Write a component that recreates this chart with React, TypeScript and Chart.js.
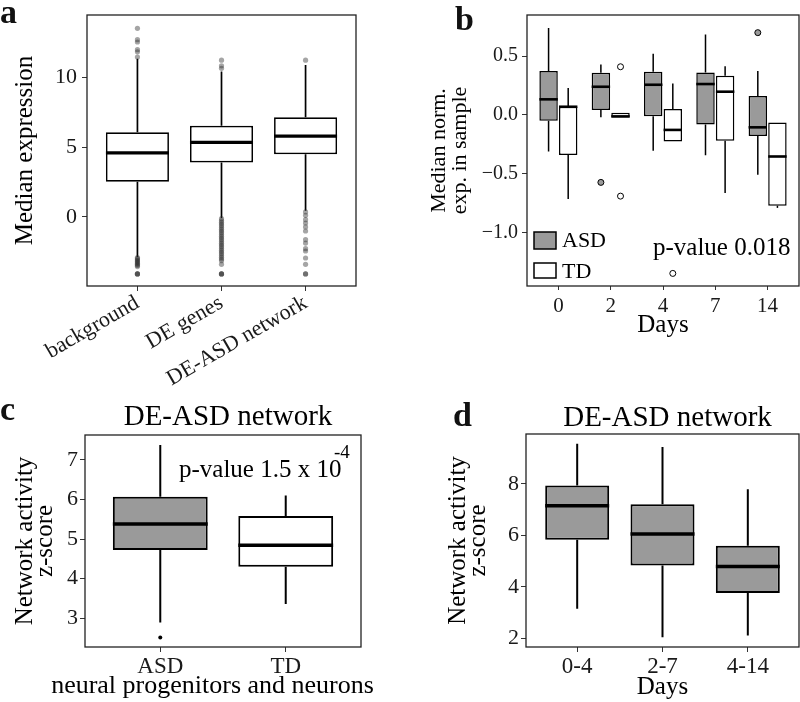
import React, { useEffect, useRef } from "react";
import { Chart, registerables } from "chart.js";

Chart.register(...registerables);

const SERIF = '"Liberation Serif", "Times New Roman", Times, serif';
const ASD_GREY = "#9a9a9a";
const WHITE = "#ffffff";
const TICK_TEXT = "#1a1a1a";

// ---------------- Panel a ----------------
const aCategories = ["background", "DE genes", "DE-ASD network"];
const aLow = [-2.85, -0.08, 0.45];
const aQ1 = [2.52, 3.9, 4.48];
const aMedian = [4.58, 5.33, 5.78];
const aQ3 = [6.05, 6.52, 7.12];
const aHigh = [11.3, 10.4, 10.85];
const aOutBackground = [11.43, 11.8, 11.95, 12.5, 12.67, 13.48, -2.9, -2.98, -3.06, -3.14, -3.22, -3.3, -3.38, -3.46, -3.54, -4.07, -4.07, -4.07];
const aOutDE = [10.62, 10.8, 11.2, -0.12, -0.25, -0.38, -0.5, -0.62, -0.75, -0.88, -1.0, -1.12, -1.25, -1.38, -1.5, -1.62, -1.75, -1.88, -2.0, -2.12, -2.25, -2.38, -2.5, -2.62, -2.75, -2.88, -3.0, -3.12, -3.38, -4.07, -4.07, -4.07];
const aOutNetwork = [11.2, 0.36, 0.12, -0.19, -0.43, -0.71, -1.0, -1.62, -1.86, -2.26, -2.43, -2.93, -3.38, -4.07, -4.07];
const aYTicks = [0, 5, 10];
const aYTickLabels = ["0", "5", "10"];

// ---------------- Panel b ----------------
const bDays = ["0", "2", "4", "7", "14"];
const bAsdLow = [-0.31, -0.02, -0.305, -0.342, -0.508];
const bAsdQ1 = [-0.05, 0.042, -0.011, -0.082, -0.178];
const bAsdMedian = [0.133, 0.24, 0.257, 0.263, -0.105];
const bAsdQ3 = [0.373, 0.36, 0.367, 0.362, 0.161];
const bAsdHigh = [0.74, 0.43, 0.52, 0.684, 0.373];
const bAsdOutliers = [[], [-0.573], [], [], [0.7]];
const bTdLow = [-0.715, -0.022, -0.226, -0.664, -0.79];
const bTdQ1 = [-0.34, -0.022, -0.226, -0.22, -0.771];
const bTdMedian = [0.07, -0.012, -0.127, 0.198, -0.353];
const bTdQ3 = [0.07, 0.018, 0.05, 0.333, -0.065];
const bTdHigh = [0.23, 0.018, 0.268, 0.415, -0.065];
const bTdOutliers = [[], [0.41, -0.69], [-1.347], [], []];
const bYTicks = [-1, -0.5, 0, 0.5];
const bYTickLabels = ["\u22121.0", "\u22120.5", "0.0", "0.5"];

// ---------------- Panel c ----------------
const cGroups = ["ASD", "TD"];
const cLow = [2.89, 3.36];
const cQ1 = [4.72, 4.3];
const cMedian = [5.38, 4.84];
const cQ3 = [6.07, 5.58];
const cHigh = [7.38, 6.1];
const cOutliers = [[2.51], []];
const cFills = [ASD_GREY, WHITE];
const cYTicks = [3, 4, 5, 6, 7];
const cYTickLabels = ["3", "4", "5", "6", "7"];

// ---------------- Panel d ----------------
const dWindows = ["0-4", "2-7", "4-14"];
const dLow = [3.15, 2.05, 2.12];
const dQ1 = [5.83, 4.83, 3.76];
const dMedian = [7.15, 6.05, 4.79];
const dQ3 = [7.93, 7.21, 5.6];
const dHigh = [9.55, 9.43, 7.79];
const dYTicks = [2, 4, 6, 8];
const dYTickLabels = ["2", "4", "6", "8"];

interface BoxSeries {
  label: string;
  fills: string[];
  low: number[];
  q1: number[];
  median: number[];
  q3: number[];
  high: number[];
  outliers: number[][];
  outlierFill: string;
  outlierStroke: string | null;
  outlierRadius: number;
}

interface TextItem {
  text: string;
  x: number;
  y: number;
  size: number;
  align: CanvasTextAlign;
}

interface LegendItem {
  series: number;
  x: number;
  y: number;
  w: number;
  h: number;
  tx: number;
  ty: number;
  size: number;
}

interface PanelSpec {
  width: number;
  height: number;
  area: { left: number; top: number; right: number; bottom: number };
  categories: string[];
  series: BoxSeries[];
  yMin: number;
  yMax: number;
  yTicks: number[];
  yTickLabels: string[];
  yTickSize: number;
  yTickPad: number;
  yTitle: string | string[];
  yTitleSize: number;
  yTitleLineHeight: string | number;
  yTitlePad: number;
  xTickSize: number;
  xTickPad: number;
  xTickLen: number;
  xRotation: number;
  xTitle: string | null;
  xTitleSize: number;
  xTitlePad: number;
  catPct: number;
  barPct: number;
  boxLine: number;
  whiskerLine: number;
  medianLine: number;
  texts: TextItem[];
  legend: LegendItem[];
}

const panelA: PanelSpec = {
  width: 400,
  height: 400,
  area: { left: 87, top: 15, right: 356, bottom: 286 },
  categories: aCategories,
  series: [
    {
      label: "expression",
      fills: [WHITE, WHITE, WHITE],
      low: aLow,
      q1: aQ1,
      median: aMedian,
      q3: aQ3,
      high: aHigh,
      outliers: [aOutBackground, aOutDE, aOutNetwork],
      outlierFill: "rgba(40,40,40,0.42)",
      outlierStroke: null,
      outlierRadius: 2.6,
    },
  ],
  yMin: -4.93,
  yMax: 14.43,
  yTicks: aYTicks,
  yTickLabels: aYTickLabels,
  yTickSize: 22,
  yTickPad: 5,
  yTitle: "Median expression",
  yTitleSize: 25,
  yTitleLineHeight: 1.2,
  yTitlePad: 10,
  xTickSize: 22,
  xTickPad: 1,
  xTickLen: 5,
  xRotation: 30,
  xTitle: null,
  xTitleSize: 25,
  xTitlePad: 0,
  catPct: 0.75,
  barPct: 1,
  boxLine: 1.7,
  whiskerLine: 1.7,
  medianLine: 3.3,
  texts: [],
  legend: [],
};

const panelB: PanelSpec = {
  width: 400,
  height: 400,
  area: { left: 127, top: 15, right: 399, bottom: 286 },
  categories: bDays,
  series: [
    {
      label: "ASD",
      fills: bDays.map(() => ASD_GREY),
      low: bAsdLow,
      q1: bAsdQ1,
      median: bAsdMedian,
      q3: bAsdQ3,
      high: bAsdHigh,
      outliers: bAsdOutliers,
      outlierFill: ASD_GREY,
      outlierStroke: "#000",
      outlierRadius: 3,
    },
    {
      label: "TD",
      fills: bDays.map(() => WHITE),
      low: bTdLow,
      q1: bTdQ1,
      median: bTdMedian,
      q3: bTdQ3,
      high: bTdHigh,
      outliers: bTdOutliers,
      outlierFill: WHITE,
      outlierStroke: "#000",
      outlierRadius: 3,
    },
  ],
  yMin: -1.454,
  yMax: 0.85,
  yTicks: bYTicks,
  yTickLabels: bYTickLabels,
  yTickSize: 20,
  yTickPad: 4,
  yTitle: ["Median norm.", "exp. in sample"],
  yTitleSize: 22,
  yTitleLineHeight: "21px",
  yTitlePad: 28.5,
  xTickSize: 21,
  xTickPad: 6,
  xTickLen: 4,
  xRotation: 0,
  xTitle: "Days",
  xTitleSize: 25,
  xTitlePad: 62,
  catPct: 0.75,
  barPct: 0.94,
  boxLine: 1.5,
  whiskerLine: 1.5,
  medianLine: 2.6,
  texts: [{ text: "p-value 0.018", x: 253, y: 255, size: 25, align: "left" }],
  legend: [
    { series: 0, x: 134, y: 232, w: 22, h: 17, tx: 162, ty: 247, size: 22 },
    { series: 1, x: 134, y: 263, w: 22, h: 15, tx: 162, ty: 278, size: 22 },
  ],
};

const panelC: PanelSpec = {
  width: 400,
  height: 302,
  area: { left: 85, top: 35, right: 361, bottom: 247 },
  categories: cGroups,
  series: [
    {
      label: "network activity",
      fills: cFills,
      low: cLow,
      q1: cQ1,
      median: cMedian,
      q3: cQ3,
      high: cHigh,
      outliers: cOutliers,
      outlierFill: "#000",
      outlierStroke: null,
      outlierRadius: 2,
    },
  ],
  yMin: 2.27,
  yMax: 7.63,
  yTicks: cYTicks,
  yTickLabels: cYTickLabels,
  yTickSize: 22,
  yTickPad: 2,
  yTitle: ["Network activity", "z-score"],
  yTitleSize: 25,
  yTitleLineHeight: "20px",
  yTitlePad: 15.7,
  xTickSize: 23,
  xTickPad: 3,
  xTickLen: 5,
  xRotation: 0,
  xTitle: null,
  xTitleSize: 26,
  xTitlePad: 0,
  catPct: 0.756,
  barPct: 1,
  boxLine: 2,
  whiskerLine: 2,
  medianLine: 3.5,
  texts: [
    { text: "DE-ASD network", x: 228, y: 25, size: 29, align: "center" },
    { text: "p-value 1.5 x 10", x: 179, y: 77, size: 25, align: "left" },
    { text: "-4", x: 334, y: 58, size: 19, align: "left" },
    { text: "neural progenitors and neurons", x: 212.5, y: 293, size: 26, align: "center" },
  ],
  legend: [],
};

const panelD: PanelSpec = {
  width: 400,
  height: 302,
  area: { left: 126, top: 34, right: 399, bottom: 247 },
  categories: dWindows,
  series: [
    {
      label: "network activity",
      fills: dWindows.map(() => ASD_GREY),
      low: dLow,
      q1: dQ1,
      median: dMedian,
      q3: dQ3,
      high: dHigh,
      outliers: [[], [], []],
      outlierFill: "#000",
      outlierStroke: null,
      outlierRadius: 2,
    },
  ],
  yMin: 1.67,
  yMax: 9.93,
  yTicks: dYTicks,
  yTickLabels: dYTickLabels,
  yTickSize: 22,
  yTickPad: 2,
  yTitle: ["Network activity", "z-score"],
  yTitleSize: 25,
  yTitleLineHeight: "20px",
  yTitlePad: 48.4,
  xTickSize: 23,
  xTickPad: 3,
  xTickLen: 5,
  xRotation: 0,
  xTitle: "Days",
  xTitleSize: 25,
  xTitlePad: 2.1,
  catPct: 0.75,
  barPct: 1,
  boxLine: 2,
  whiskerLine: 2,
  medianLine: 3.5,
  texts: [{ text: "DE-ASD network", x: 267.5, y: 26, size: 29, align: "center" }],
  legend: [],
};

function makeChart(canvas: HTMLCanvasElement, spec: PanelSpec) {
  const n = spec.categories.length;
  const datasets = spec.series.map((s) => ({
    type: "bar" as const,
    label: s.label,
    data: spec.categories.map((_, i) => ({ x: i, y: [s.q1[i], s.q3[i]] })),
    backgroundColor: s.fills,
    borderColor: "#000",
    borderWidth: spec.boxLine,
    borderSkipped: false,
    categoryPercentage: spec.catPct,
    barPercentage: spec.barPct,
  }));

  const boxPlugin = {
    id: "boxParts",
    afterDatasetsDraw(chart: any) {
      const ctx = chart.ctx as CanvasRenderingContext2D;
      const y = chart.scales.y;
      spec.series.forEach((s, k) => {
        const meta = chart.getDatasetMeta(k);
        meta.data.forEach((el: any, i: number) => {
          const x = el.x;
          const half = el.width / 2;
          ctx.save();
          ctx.strokeStyle = "#000";
          ctx.lineCap = "butt";
          ctx.lineWidth = spec.whiskerLine;
          ctx.beginPath();
          if (s.high[i] > s.q3[i]) {
            ctx.moveTo(x, y.getPixelForValue(s.q3[i]));
            ctx.lineTo(x, y.getPixelForValue(s.high[i]));
          }
          if (s.low[i] < s.q1[i]) {
            ctx.moveTo(x, y.getPixelForValue(s.q1[i]));
            ctx.lineTo(x, y.getPixelForValue(s.low[i]));
          }
          ctx.stroke();
          ctx.lineWidth = spec.medianLine;
          const my = y.getPixelForValue(s.median[i]);
          ctx.beginPath();
          ctx.moveTo(x - half, my);
          ctx.lineTo(x + half, my);
          ctx.stroke();
          s.outliers[i].forEach((v) => {
            ctx.beginPath();
            ctx.arc(x, y.getPixelForValue(v), s.outlierRadius, 0, Math.PI * 2);
            ctx.fillStyle = s.outlierFill;
            ctx.fill();
            if (s.outlierStroke) {
              ctx.lineWidth = 1;
              ctx.strokeStyle = s.outlierStroke;
              ctx.stroke();
            }
          });
          ctx.restore();
        });
      });
    },
    afterDraw(chart: any) {
      const ctx = chart.ctx as CanvasRenderingContext2D;
      const a = chart.chartArea;
      ctx.save();
      ctx.strokeStyle = "#222";
      ctx.lineWidth = 1.3;
      ctx.strokeRect(a.left, a.top, a.right - a.left, a.bottom - a.top);
      ctx.fillStyle = "#000";
      ctx.textBaseline = "alphabetic";
      spec.texts.forEach((t) => {
        ctx.font = `${t.size}px ${SERIF}`;
        ctx.textAlign = t.align;
        ctx.fillText(t.text, t.x, t.y);
      });
      spec.legend.forEach((l) => {
        const ds = chart.data.datasets[l.series];
        const fill = Array.isArray(ds.backgroundColor) ? ds.backgroundColor[0] : ds.backgroundColor;
        ctx.fillStyle = fill;
        ctx.fillRect(l.x, l.y, l.w, l.h);
        ctx.lineWidth = 1.5;
        ctx.strokeStyle = "#000";
        ctx.strokeRect(l.x, l.y, l.w, l.h);
        ctx.fillStyle = "#000";
        ctx.font = `${l.size}px ${SERIF}`;
        ctx.textAlign = "left";
        ctx.fillText(ds.label, l.tx, l.ty);
      });
      ctx.restore();
    },
  };

  return new Chart(canvas, {
    type: "bar",
    data: { datasets: datasets as any },
    options: {
      responsive: false,
      maintainAspectRatio: false,
      animation: false,
      layout: {
        padding: { left: 0, top: spec.area.top, right: spec.width - spec.area.right, bottom: 0 },
      },
      plugins: {
        legend: { display: false },
        tooltip: { enabled: false },
        title: { display: false },
      },
      scales: {
        x: {
          type: "linear",
          min: -0.6,
          max: n - 0.4,
          offset: false,
          afterBuildTicks: (sc: any) => {
            sc.ticks = spec.categories.map((_, i) => ({ value: i }));
          },
          afterFit: (sc: any) => {
            sc.height = spec.height - spec.area.bottom;
          },
          grid: {
            display: true,
            drawOnChartArea: false,
            drawTicks: true,
            tickLength: spec.xTickLen,
            color: "#333",
            tickColor: "#333",
            lineWidth: 1,
            offset: false,
          },
          border: { display: false },
          ticks: {
            autoSkip: false,
            minRotation: spec.xRotation,
            maxRotation: spec.xRotation,
            padding: spec.xTickPad,
            color: TICK_TEXT,
            font: { family: SERIF, size: spec.xTickSize, lineHeight: 1 },
            callback: (_v: any, idx: number) => spec.categories[idx],
          },
          title: spec.xTitle
            ? {
                display: true,
                text: spec.xTitle,
                color: "#000",
                font: { family: SERIF, size: spec.xTitleSize, lineHeight: 1 },
                padding: { top: 0, bottom: spec.xTitlePad },
              }
            : { display: false },
        },
        y: {
          type: "linear",
          min: spec.yMin,
          max: spec.yMax,
          afterBuildTicks: (sc: any) => {
            sc.ticks = spec.yTicks.map((v) => ({ value: v }));
          },
          afterFit: (sc: any) => {
            sc.width = spec.area.left;
          },
          grid: {
            display: true,
            drawOnChartArea: false,
            drawTicks: true,
            tickLength: 5,
            color: "#333",
            tickColor: "#333",
            lineWidth: 1,
          },
          border: { display: false },
          ticks: {
            autoSkip: false,
            padding: spec.yTickPad,
            color: TICK_TEXT,
            font: { family: SERIF, size: spec.yTickSize, lineHeight: 0.8 },
            callback: (_v: any, idx: number) => spec.yTickLabels[idx],
          },
          title: {
            display: true,
            text: spec.yTitle,
            color: "#000",
            font: { family: SERIF, size: spec.yTitleSize, lineHeight: spec.yTitleLineHeight as any },
            padding: { top: spec.yTitlePad, bottom: 0 },
          },
        },
      },
    } as any,
    plugins: [boxPlugin],
  });
}

function Panel({ spec, left, top }: { spec: PanelSpec; left: number; top: number }) {
  const ref = useRef<HTMLCanvasElement>(null);
  useEffect(() => {
    if (!ref.current) return;
    const chart = makeChart(ref.current, spec);
    return () => chart.destroy();
  }, [spec]);
  return (
    <canvas
      ref={ref}
      width={spec.width}
      height={spec.height}
      style={{ position: "absolute", left, top, width: spec.width, height: spec.height }}
    />
  );
}

const letterStyle = (left: number, top: number): React.CSSProperties => ({
  position: "absolute",
  left,
  top,
  font: `bold 34px ${SERIF}`,
  lineHeight: "34px",
  color: "#111",
  margin: 0,
});

export default function App() {
  return (
    <div
      style={{
        position: "absolute",
        left: 0,
        top: 0,
        width: 800,
        height: 702,
        background: "#fff",
        overflow: "hidden",
      }}
    >
      <Panel spec={panelA} left={0} top={0} />
      <Panel spec={panelB} left={400} top={0} />
      <Panel spec={panelC} left={0} top={400} />
      <Panel spec={panelD} left={400} top={400} />
      <div style={letterStyle(0, -5.5)}>a</div>
      <div style={letterStyle(455, 1.5)}>b</div>
      <div style={letterStyle(0, 391.5)}>c</div>
      <div style={letterStyle(453, 397.5)}>d</div>
    </div>
  );
}
